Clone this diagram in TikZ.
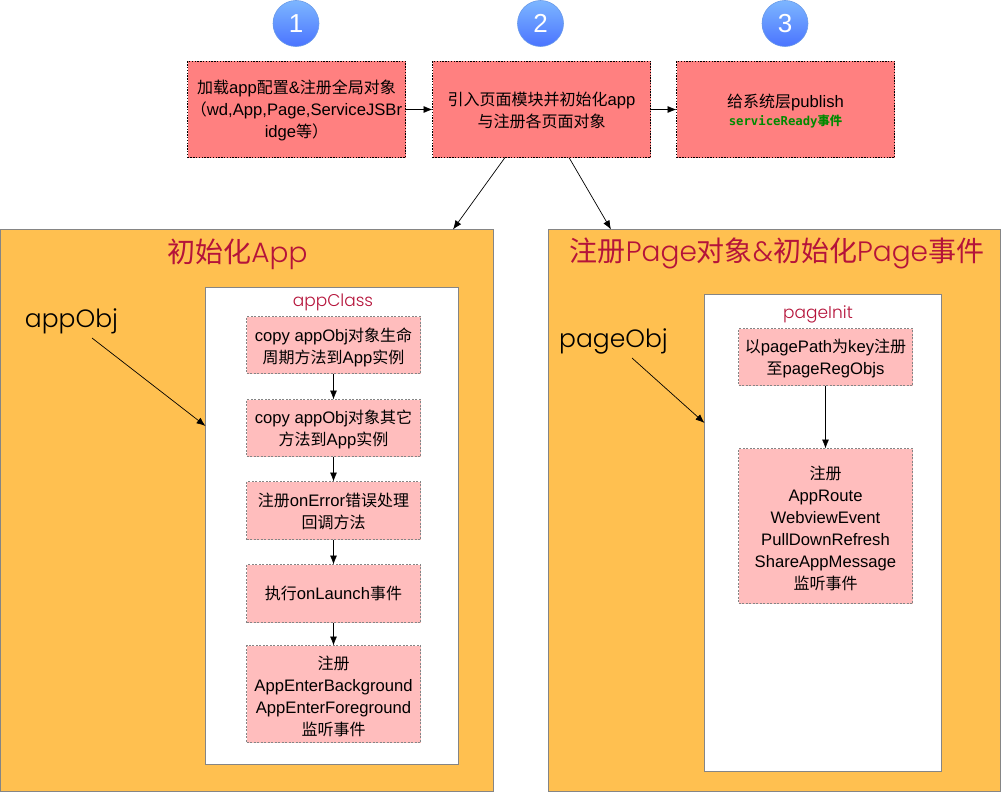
\documentclass[tikz,border=0pt]{standalone}
\usepackage{fontspec}
\usetikzlibrary{arrows.meta,positioning}
\setmainfont[Scale=1.04]{Liberation Sans}
\newfontfamily\cjk{Noto Sans CJK SC}
\newfontfamily\geo{Poppins Light}
\newfontfamily\dvm{DejaVu Sans Mono}
\newcommand{\zh}[1]{{\cjk\fontsize{16}{22}\selectfont #1}}
\definecolor{redbox}{HTML}{FF8080}
\definecolor{pinkbox}{HTML}{FFBDBD}
\definecolor{orangebox}{HTML}{FFC050}
\definecolor{titlered}{HTML}{B5133A}
\definecolor{edgegray}{HTML}{858585}
\definecolor{greentext}{HTML}{008A00}
\definecolor{badgetop}{HTML}{7DB6FF}
\definecolor{badgebot}{HTML}{4A74FF}
\definecolor{badgeline}{HTML}{6A9BE8}
\tikzset{
  x=1pt,y=-1pt,
  every node/.style={outer sep=0pt},
  arr/.style={-{Latex[length=9pt,width=7pt]},black,line width=0.7pt},
  stepred/.style={draw=black,dash pattern=on 1.4pt off 1.4pt,line width=0.8pt,fill=redbox,minimum width=218pt,minimum height=96pt,inner sep=0pt,anchor=north west},
  steppink/.style={draw=edgegray,dash pattern=on 2pt off 1.5pt,line width=0.7pt,fill=pinkbox,inner sep=0pt,anchor=north west},
  lbl/.style={inner sep=0pt,align=center,font=\fontsize{16}{22}\selectfont,yshift=-#1 pt},
  panel/.style={draw=edgegray,line width=0.8pt,fill=orangebox,anchor=north west,inner sep=0pt},
  inner/.style={draw=edgegray,line width=0.8pt,fill=white,anchor=north west,inner sep=0pt},
  badge/.style={circle,draw=badgeline,line width=0.6pt,minimum size=46pt,inner sep=0pt,top color=badgetop,bottom color=badgebot,text=white,font=\fontsize{25}{25}\selectfont},
  bigtitle/.style={text=titlered,font=\geo\fontsize{28}{28}\selectfont,inner sep=0pt},
  smalltitle/.style={text=titlered,font=\geo\fontsize{17}{17}\selectfont,inner sep=0pt},
  objlabel/.style={font=\geo\fontsize{25}{25}\selectfont,inner sep=0pt},
}
\begin{document}
\begin{tikzpicture}
\useasboundingbox (0,0) rectangle (1001,792);
\fill[white] (0,0) rectangle (1001,792);
% badges
\node[badge] (b1) at (296,23.5) {1};
\node[badge] (b2) at (540.5,23.5) {2};
\node[badge] (b3) at (785,23.5) {3};
% top steps
\node[stepred,label={[lbl=1]center:{\zh{加载}app\zh{配置}\&\zh{注册全局对象}\\\zh{（}wd,App,Page,ServiceJSBr\\idge\zh{等）}}}] (s1) at (187.5,61.5) {};
\node[stepred,label={[lbl=1]center:{\zh{引入页面模块并初始化}app\\\zh{与注册各页面对象}}}] (s2) at (432.5,61.5) {};
\node[stepred,label={[lbl=1.5]center:{\zh{给系统层}publish\\[-3.5pt]{\dvm\bfseries\fontsize{12.3}{13}\selectfont\color{greentext}serviceReady{\cjk\bfseries\fontsize{12.3}{13}\selectfont 事件}}}}] (s3) at (676.5,61.5) {};
\draw[arr] (s1.east) -- (s2.west);
\draw[arr] (s2.east) -- (s3.west);
% panels
\node[panel,minimum width=493pt,minimum height=562pt] (p1) at (0.5,229.5) {};
\node[panel,minimum width=451.5pt,minimum height=562pt] (p2) at (548.5,229.5) {};
\coordinate (s2l) at (505,157.5);
\coordinate (s2r) at (569,157.5);
\coordinate (p1t) at (453,229.5);
\coordinate (p2t) at (611,229.5);
\draw[arr] (s2l) -- (p1t);
\draw[arr] (s2r) -- (p2t);
\node[bigtitle] (t1) at (237.5,254) {\zh{\fontsize{28}{28}\selectfont 初始化}App};
\node[bigtitle] (t2) at (777,253) {\zh{\fontsize{28}{28}\selectfont 注册}Page\zh{\fontsize{28}{28}\selectfont 对象}\&\zh{\fontsize{28}{28}\selectfont 初始化}Page\zh{\fontsize{28}{28}\selectfont 事件}};
% inner panels
\node[inner,minimum width=253pt,minimum height=477pt] (i1) at (205.5,287.5) {};
\node[inner,minimum width=237pt,minimum height=477pt] (i2) at (704.5,294.5) {};
\node[smalltitle] (c1) at (333,302.5) {appClass};
\node[smalltitle] (c2) at (818,314.5) {pageInit};
\node[objlabel] (o1) at (71.5,321) {appObj};
\node[objlabel] (o2) at (613.5,341) {pageObj};
\coordinate (o1e) at (92,338);
\coordinate (o2e) at (632,358);
\coordinate (i1w) at (205.5,426);
\coordinate (i2w) at (704.5,423);
\draw[arr] (o1e) -- (i1w);
\draw[arr] (o2e) -- (i2w);
% left steps
\node[steppink,minimum width=174pt,minimum height=57pt,label={[lbl=2]center:{copy appObj\zh{对象生命}\\\zh{周期方法到}App\zh{实例}}}] (a1) at (246.5,316.5) {};
\node[steppink,minimum width=174pt,minimum height=57pt,label={[lbl=1]center:{copy appObj\zh{对象其它}\\\zh{方法到}App\zh{实例}}}] (a2) at (246.5,399.5) {};
\node[steppink,minimum width=174pt,minimum height=58pt,label={[lbl=1]center:{\zh{注册}onError\zh{错误处理}\\\zh{回调方法}}}] (a3) at (246.5,481.5) {};
\node[steppink,minimum width=174pt,minimum height=58pt,label={[lbl=0]center:{\zh{执行}onLaunch\zh{事件}}}] (a4) at (246.5,564.5) {};
\node[steppink,minimum width=174pt,minimum height=97pt,label={[lbl=2]center:{\zh{注册}\\AppEnterBackground\\AppEnterForeground\\\zh{监听事件}}}] (a5) at (246.5,645.5) {};
\draw[arr] (a1) -- (a2);
\draw[arr] (a2) -- (a3);
\draw[arr] (a3) -- (a4);
\draw[arr] (a4) -- (a5);
% right steps
\node[steppink,minimum width=174pt,minimum height=57pt,label={[lbl=1]center:{\zh{以}pagePath\zh{为}key\zh{注册}\\\zh{至}pageRegObjs}}] (r1) at (738.5,328.5) {};
\node[steppink,minimum width=174pt,minimum height=155pt,label={[lbl=2]center:{\zh{注册}\\AppRoute\\WebviewEvent\\PullDownRefresh\\ShareAppMessage\\\zh{监听事件}}}] (r2) at (738.5,448.5) {};
\draw[arr] (r1) -- (r2);
\end{tikzpicture}
\end{document}
